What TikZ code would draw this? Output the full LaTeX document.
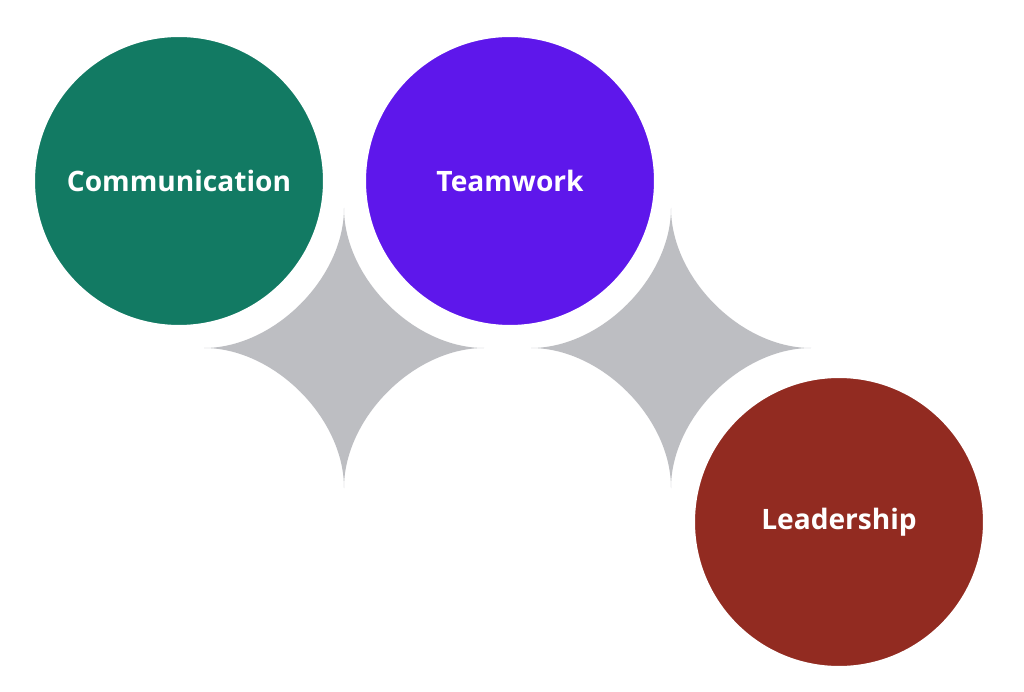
\documentclass[tikz,border=0pt]{standalone}
\usepackage{fontspec}
\setmainfont{Open Sans}
\usepackage{tikz}
\usetikzlibrary{positioning}
\definecolor{skgreen}{HTML}{127A63}
\definecolor{skpurple}{HTML}{5E17EB}
\definecolor{skred}{HTML}{922B21}
\definecolor{skgray}{HTML}{BDBEC2}
\newcommand{\sparkle}[2]{%
  \fill[spark] (#1,#2-140) .. controls +(0,70) and +(-70,0) .. (#1+140,#2)
    .. controls +(-70,0) and +(0,-70) .. (#1,#2+140)
    .. controls +(0,-70) and +(70,0) .. (#1-140,#2)
    .. controls +(70,0) and +(0,70) .. cycle;}

\begin{document}
\begin{tikzpicture}[
  x=0.02cm, y=-0.02cm,
  spark/.style={fill=skgray},
  skill/.style={circle, draw=white, line width=0.32cm, minimum size=6.08cm,
    inner sep=0pt, text=white, font=\fontsize{16}{19}\selectfont\bfseries},
]
\useasboundingbox[fill=white] (0,0) rectangle (1024,692);
% ---- the two sparkles between the circles ----
\sparkle{344}{348}
\sparkle{671}{348}
% ---- the three skills ----
\node[skill, fill=skgreen]  (comm)  at (179,181) {Communication};
\node[skill, fill=skpurple] (team)  at (510,181) {Teamwork};
\node[skill, fill=skred]    (lead)  at (839,522) {Leadership};
\end{tikzpicture}
\end{document}
